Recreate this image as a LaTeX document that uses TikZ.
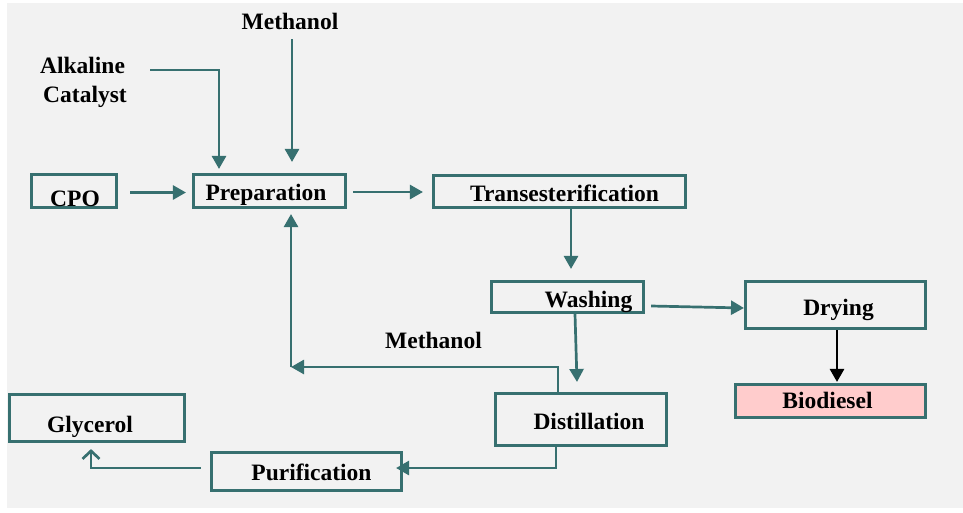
\documentclass[tikz,border=0pt]{standalone}
\usepackage{fontspec}
\setmainfont{Liberation Serif}
\usetikzlibrary{arrows.meta}
\definecolor{tealc}{RGB}{55,112,112}
\definecolor{bgc}{RGB}{242,242,242}
\definecolor{pinkc}{RGB}{255,204,204}
\begin{document}
\begin{tikzpicture}[x=1pt,y=-1pt,
  box/.style={draw=tealc, line width=2.7pt, rectangle, inner sep=0pt},
  lbl/.style={font=\bfseries\fontsize{23.5}{27}\selectfont, anchor=base, inner sep=0pt},
  flow/.style={draw=tealc, line width=2.7pt, -{Triangle[length=13pt,width=14pt]}},
  flowk/.style={draw=black, line width=2.7pt, -{Triangle[length=13pt,width=14pt]}},
  flowo/.style={draw=tealc, line width=2.7pt, -{Straight Barb[length=8pt,width=17pt]}},
]
\fill[white] (0,0) rectangle (963,512);
\useasboundingbox (0,0) rectangle (963,512);
\fill[bgc] (7,3) rectangle (963,508);

% boxes
\node[box, minimum width=85.4pt, minimum height=33.4pt] (cpo) at (74,191) {};
\node[box, minimum width=152.4pt, minimum height=33.4pt] (prep) at (269.5,191) {};
\node[box, minimum width=252.4pt, minimum height=32.4pt] (trans) at (559.5,191.5) {};
\node[box, minimum width=152.4pt, minimum height=31.4pt] (wash) at (567.5,297) {};
\node[box, minimum width=180.4pt, minimum height=47.4pt] (dry) at (835.5,305) {};
\node[box, fill=pinkc, minimum width=190.4pt, minimum height=33.4pt] (bio) at (830.5,401) {};
\node[box, minimum width=171.4pt, minimum height=52.4pt] (dist) at (581,419.5) {};
\node[box, minimum width=175.4pt, minimum height=47.4pt] (gly) at (97,418) {};
\node[box, minimum width=190.4pt, minimum height=38.4pt] (pur) at (306.5,471.5) {};

% texts
\node[lbl] (tcpo) at (75,206) {CPO};
\node[lbl] (tprep) at (266,200) {Preparation};
\node[lbl] (meth1) at (290,29) {Methanol};
\node[lbl] (alk1) at (82.5,73) {Alkaline};
\node[lbl] (alk2) at (85,102) {Catalyst};
\node[lbl] (ttrans) at (564.5,201) {Transesterification};
\node[lbl] (twash) at (588.5,307) {Washing};
\node[lbl] (tdry) at (838.5,315) {Drying};
\node[lbl] (tbio) at (827.5,408) {Biodiesel};
\node[lbl] (tdist) at (589,429) {Distillation};
\node[lbl] (tgly) at (90,432) {Glycerol};
\node[lbl] (tpur) at (311.5,480) {Purification};
\node[lbl] (meth2) at (433.5,348) {Methanol};

% connectors
\coordinate (alk) at (150,70);
\coordinate (m1s) at (292,39);
\coordinate (mcorner) at (291,367);
\draw[flow] (alk) -| ([xshift=-50.5pt,yshift=4pt]prep.north);
\draw[flow] (m1s) -- ([xshift=22.5pt,yshift=11pt]prep.north);
\draw[flow] ([xshift=12pt,yshift=-1.5pt]cpo.east) -- ([xshift=-6pt,yshift=-1.5pt]prep.west);
\draw[flow] ([xshift=6pt,yshift=-1pt]prep.east) -- ([xshift=-9pt,yshift=-0.5pt]trans.west);
\draw[flow] ([xshift=11.5pt]trans.south) -- ([xshift=3.5pt,yshift=11pt]wash.north);
\draw[flow] ([xshift=6pt,yshift=-9pt]wash.east) -- ([yshift=-3pt]dry.west);
\draw[flowk] ([xshift=1.5pt]dry.south) -- ([xshift=6.5pt,yshift=1pt]bio.north);
\draw[flow] ([xshift=7.5pt]wash.south) -- ([xshift=-4pt,yshift=10pt]dist.north);
\draw[flow] ([xshift=-23pt]dist.north) |- (mcorner);
\draw[flow] (mcorner) -- ([xshift=21.5pt,yshift=-5pt]prep.south);
\draw[flow] ([xshift=-25pt]dist.south) |- ([xshift=-7pt,yshift=3.5pt]pur.east);
\draw[flowo] ([xshift=-9pt,yshift=3.5pt]pur.west) -| ([xshift=-6pt,yshift=-6pt]gly.south);
\end{tikzpicture}
\end{document}
